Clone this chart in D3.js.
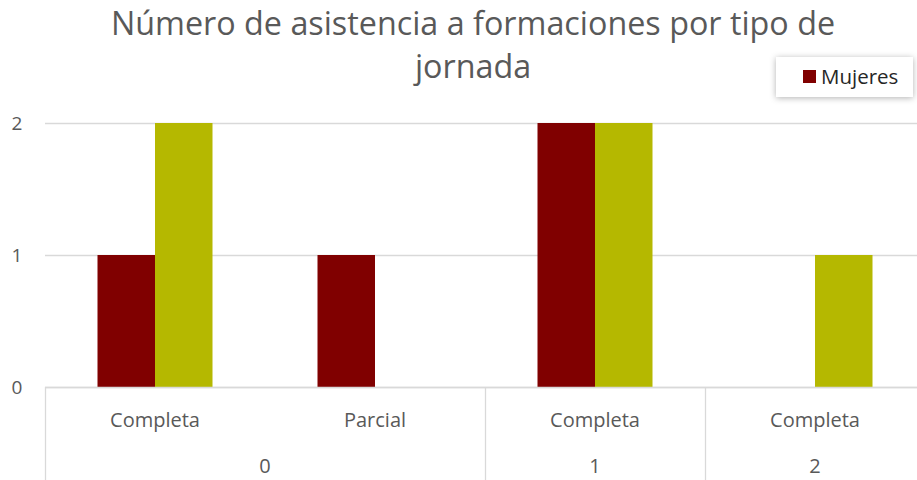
<!DOCTYPE html>
<html><head><meta charset="utf-8">
<script src="https://cdn.jsdelivr.net/npm/d3@7"></script>
<style>body{margin:0;background:#fff;overflow:hidden}svg{display:block}text{font-family:"Open Sans",sans-serif}</style>
</head><body><svg id="c" width="917" height="480"></svg>
<script>
const categories = ["Completa","Parcial","Completa","Completa"];
const groups = ["0","0","1","2"];
const groupLabels = [{label:"0", from:0, to:2},{label:"1", from:2, to:3},{label:"2", from:3, to:4}];
const seriesNames = ["Mujeres","Hombres"];
const mujeres = [1,1,2,0];
const hombres = [2,0,2,1];
const yTicks = [0,1,2];
const colors = ["#800000","#B5B800"];

(function(){
const svg = d3.select("#c");
const left = 45, right = 925, plotTop = 123, base = 387;
const idx = d3.range(categories.length);
const x = d3.scaleBand().domain(idx).range([left,right]).paddingInner(0).paddingOuter(0);
const y = d3.scaleLinear().domain([0,2]).range([base, plotTop]);
const inner = d3.scaleBand().domain([0,1]).range([x.bandwidth()/2-57.5, x.bandwidth()/2+57.5]);

// gridlines
const yAxis = d3.axisLeft(y).tickValues(yTicks).tickSize(-(917-left)).tickFormat(d3.format("d"));
const ga = svg.append("g").attr("transform",`translate(${left},0)`).call(yAxis);
ga.select(".domain").remove();
ga.selectAll(".tick line").attr("stroke","#d9d9d9").attr("stroke-width",1.3);
ga.selectAll(".tick text").attr("x",-28).attr("dy","0.36em").attr("font-size",19).attr("fill","#595959").attr("text-anchor","middle");

// bars
const data = [mujeres, hombres];
data.forEach((vals,s)=>{
  svg.append("g").selectAll("rect").data(idx).join("rect")
    .attr("x",i=>x(i)+inner(s)).attr("width",inner.bandwidth())
    .attr("y",i=>y(vals[i])).attr("height",i=>y(0)-y(vals[i]))
    .attr("fill",colors[s]);
});

// category axis
svg.append("line").attr("x1",left).attr("x2",917).attr("y1",base+0.5).attr("y2",base+0.5).attr("stroke","#d9d9d9").attr("stroke-width",1.3);
const xAxis = d3.axisBottom(x).tickFormat(i=>categories[i]).tickSize(0);
const gx = svg.append("g").attr("transform",`translate(0,${base})`).call(xAxis);
gx.select(".domain").remove();
gx.selectAll(".tick text").attr("y",40).attr("dy",0).attr("font-size",20).attr("fill","#595959");
// group separators
const seps = [left, x(2), x(3)];
svg.append("g").selectAll("line").data(seps).join("line")
  .attr("x1",d=>d+0.5).attr("x2",d=>d+0.5).attr("y1",base).attr("y2",480)
  .attr("stroke","#d9d9d9").attr("stroke-width",1.3);
svg.append("g").selectAll("text").data(groupLabels).join("text")
  .attr("x",g=>(x(g.from)+x(g.to-1)+x.bandwidth())/2).attr("y",473)
  .attr("text-anchor","middle").attr("font-size",20).attr("fill","#595959").text(g=>g.label);

// title
const t = svg.append("text").attr("text-anchor","middle").attr("font-size",32.3).attr("fill","#595959");
t.append("tspan").attr("x",473).attr("y",35).text("Número de asistencia a formaciones por tipo de");
t.append("tspan").attr("x",473).attr("y",78).text("jornada");

// legend
const defs = svg.append("defs");
const f = defs.append("filter").attr("id","sh").attr("x","-20%").attr("y","-30%").attr("width","140%").attr("height","160%");
f.append("feDropShadow").attr("dx",0).attr("dy",1).attr("stdDeviation",3).attr("flood-color","#000").attr("flood-opacity",0.3);
const lg = svg.append("g").attr("transform","translate(776,57)");
lg.append("rect").attr("width",137).attr("height",40).attr("fill","#fff").attr("filter","url(#sh)");
lg.append("rect").attr("x",27).attr("y",13).attr("width",13).attr("height",13).attr("fill",colors[0]);
lg.append("text").attr("x",45).attr("y",27).attr("font-size",20.5).attr("fill","#262626").text(seriesNames[0]);
})();
</script></body></html>
